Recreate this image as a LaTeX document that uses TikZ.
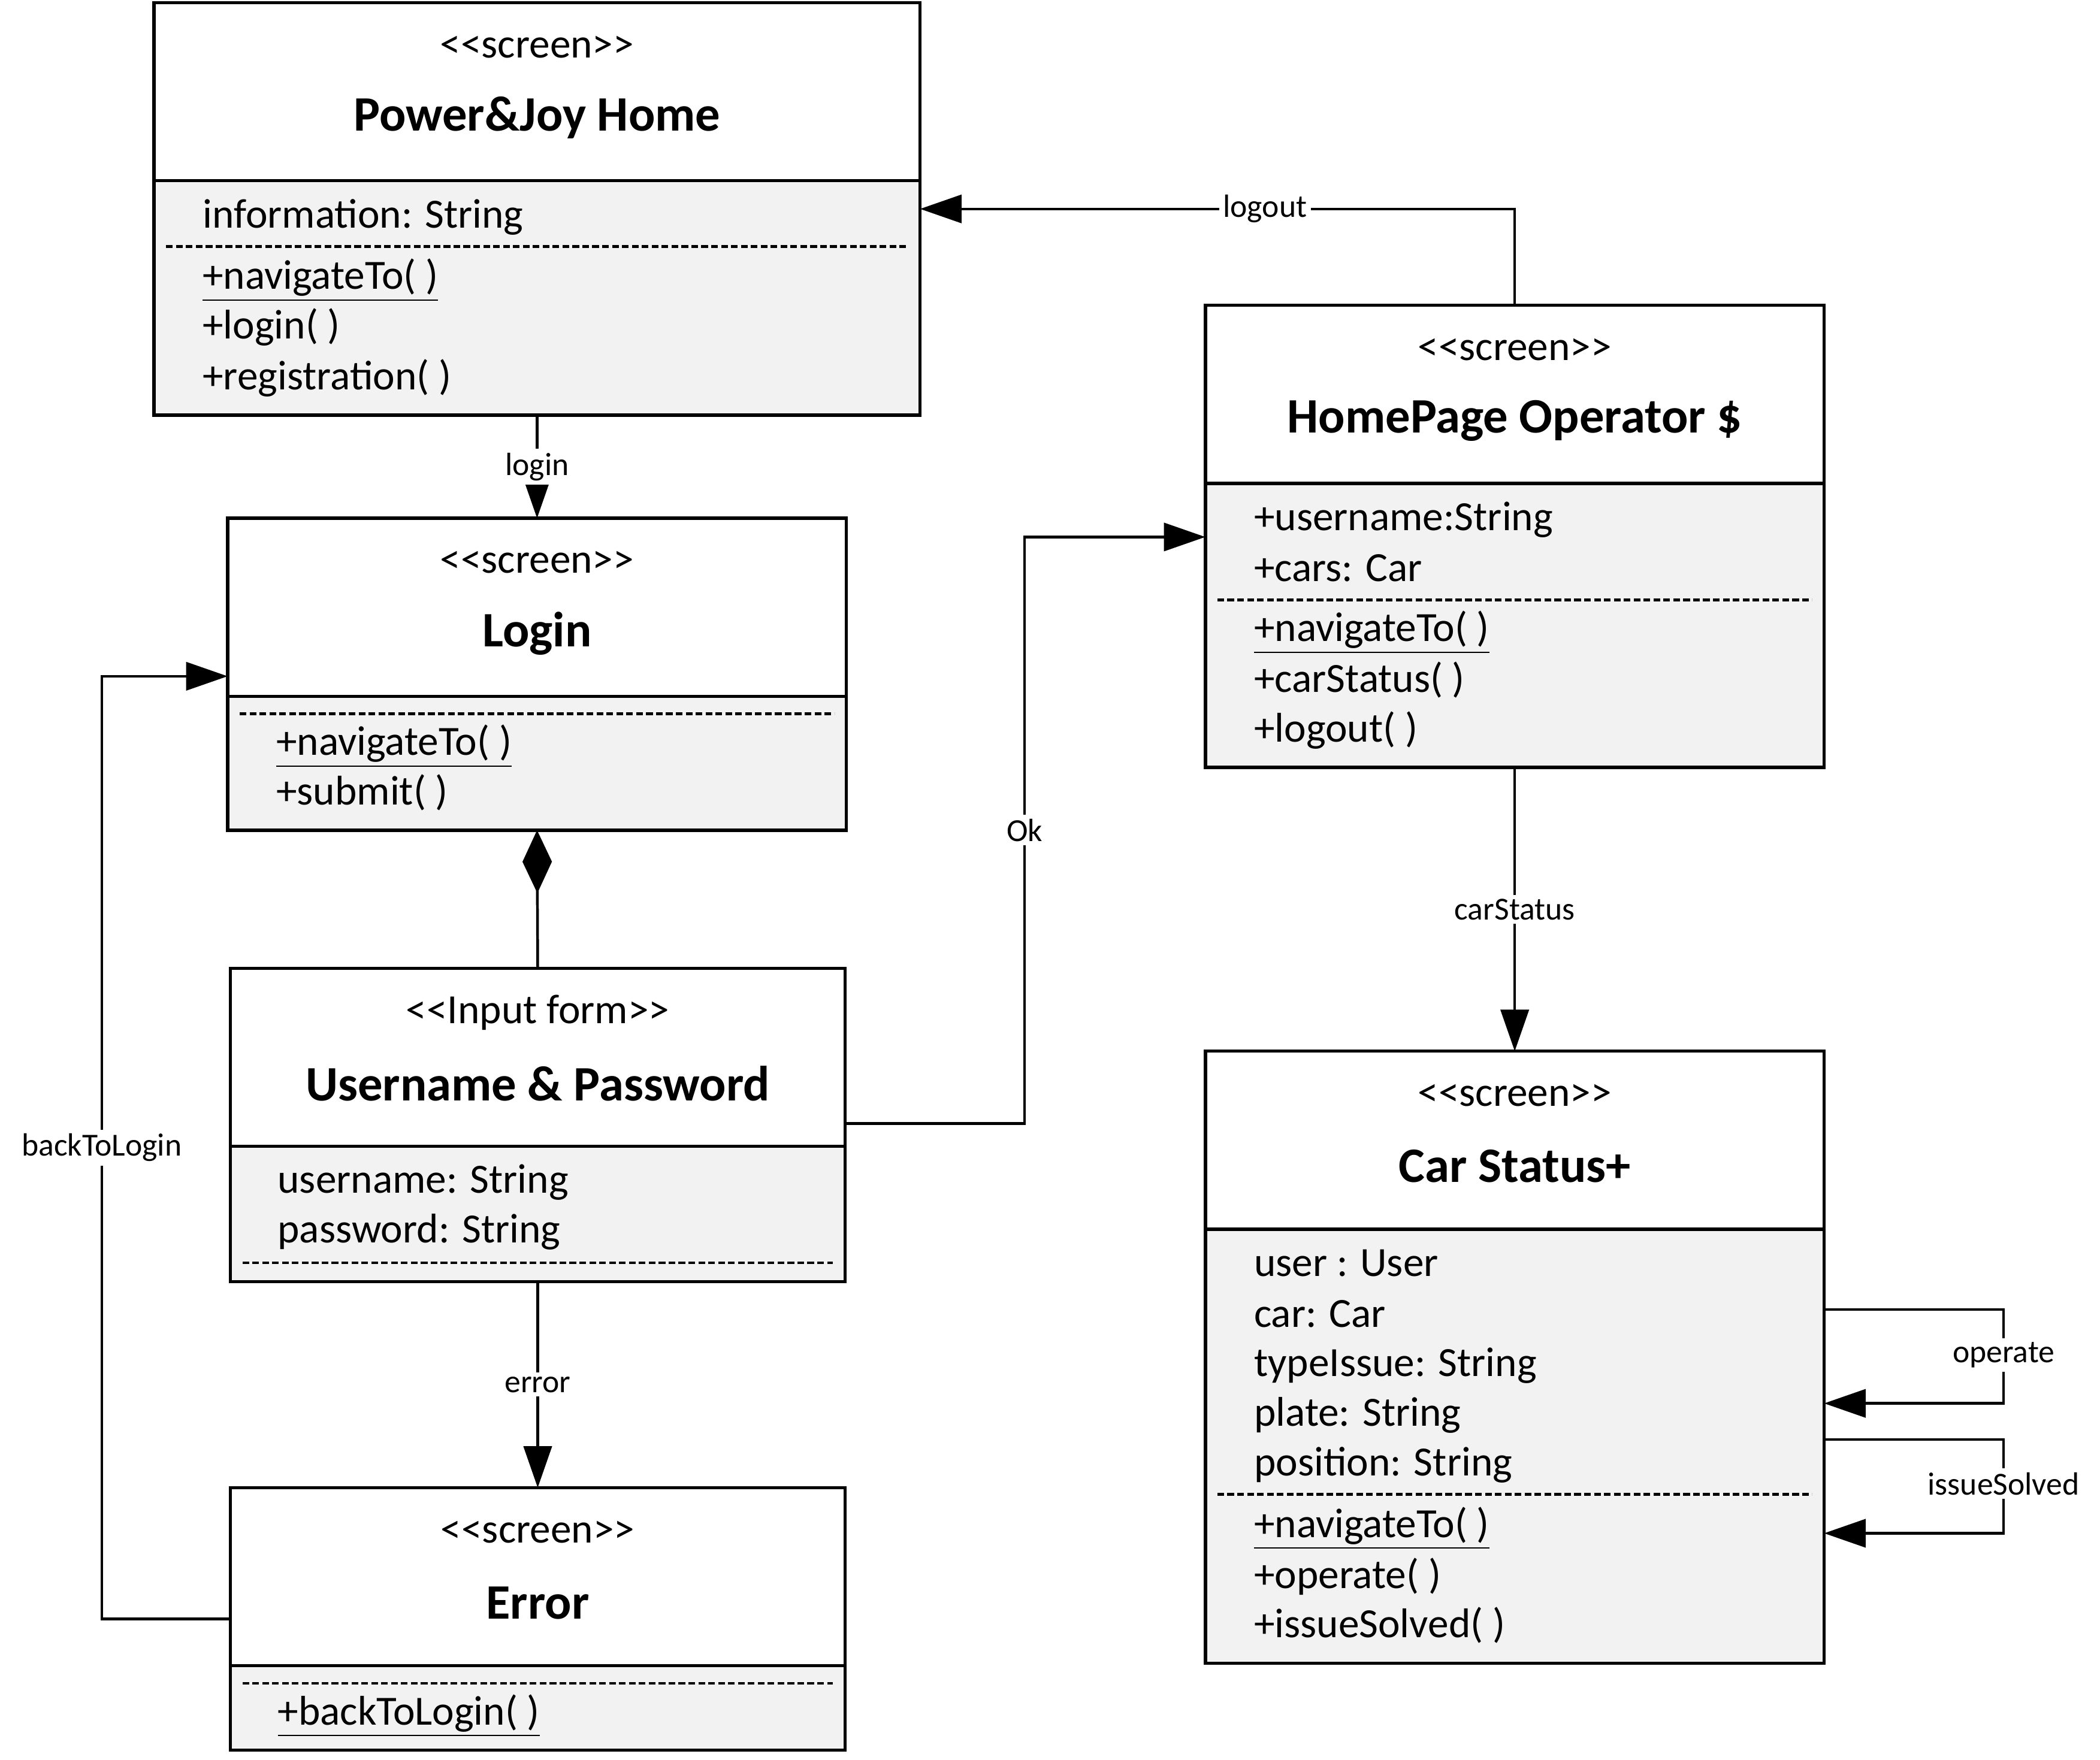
\documentclass[tikz,border=0pt]{standalone}
\usepackage{fontspec}
\setmainfont{Carlito}
\usetikzlibrary{positioning}
\usetikzlibrary{arrows.meta}
\tikzset{
    head/.style = {rectangle, draw=black, line width=1.2pt, fill=white, outer sep=0pt, inner sep=0pt, minimum height=66.5pt},
    body/.style = {rectangle, draw=black, line width=1.2pt, fill=black!5, outer sep=0pt, inner sep=0pt},
    stereo/.style = {font=\fontsize{15.5}{18}\selectfont},
    title/.style = {font=\bfseries\fontsize{18.5}{22}\selectfont},
    member/.style = {anchor=west, inner sep=0pt, text height=0.9em, text depth=0.1em, font=\fontsize{15.5}{18}\selectfont},
    sep/.style = {line width=1pt, dash pattern=on 2.5pt off 1.2pt}, % attrs / ops
    edgen/.style = {-{Triangle[length=15.5pt,width=10.5pt]}, line width=1pt},
    comp/.style = {{Diamond[length=23.5pt,width=11pt]}-, line width=1pt},
    lbl/.style = {fill=white, inner sep=1.5pt, font=\fontsize{12}{14}\selectfont}
}

\begin{document}
\begin{tikzpicture}[x=0.5pt, y=-0.5pt]
\useasboundingbox (0,0) rectangle (1568,1314);

% Power&Joy Home
\node[head, minimum width=286pt] (home) at (401,68.5) {};
\node[body, minimum width=286pt, minimum height=87.5pt, below=0pt of home] (homeB) {};
\node[stereo] (homeS) at ([yshift=-16.5pt]home.north) {<{}<screen>{}>};
\node[title] (homeT) at ([yshift=-43pt]home.north) {Power\&Joy Home};
\node[member] (homeA1) at (151,162) {information: String};
\draw[sep] (124,184) -- (678,184);
\node[member] (homeM1) at (151,208) {\underline{+navigateTo( )}};
\node[member] (homeM2) at (151,245) {+login( )};
\node[member] (homeM3) at (151,283) {+registration( )};

% Login
\node[head, minimum width=231pt] (login) at (401,453.5) {};
\node[body, minimum width=231pt, minimum height=50pt, below=0pt of login] (loginB) {};
\node[stereo] (loginS) at ([yshift=-16.5pt]login.north) {<{}<screen>{}>};
\node[title] (loginT) at ([yshift=-43pt]login.north) {Login};
\draw[sep] (179,533) -- (623,533);
\node[member] (loginM1) at (206,556) {\underline{+navigateTo( )}};
\node[member] (loginM2) at (206,593) {+submit( )};

% Username & Password
\node[head, minimum width=229.5pt] (user) at (401.5,789.5) {};
\node[body, minimum width=229.5pt, minimum height=50.5pt, below=0pt of user] (userB) {};
\node[stereo] (userS) at ([yshift=-16.5pt]user.north) {<{}<Input form>{}>};
\node[title] (userT) at ([yshift=-43pt]user.north) {Username \& Password};
\node[member] (userA1) at (207,883) {username: String};
\node[member] (userA2) at (207,920) {password: String};
\draw[sep] (181,943) -- (622,943);

% Error
\node[head, minimum width=229.5pt] (error) at (401.5,1177.5) {};
\node[body, minimum width=229.5pt, minimum height=31.5pt, below=0pt of error] (errorB) {};
\node[stereo] (errorS) at ([yshift=-16.5pt]error.north) {<{}<screen>{}>};
\node[title] (errorT) at ([yshift=-43pt]error.north) {Error};
\draw[sep] (181,1257) -- (622,1257);
\node[member] (errorM1) at (207,1280) {\underline{+backToLogin( )}};

% HomePage Operator
\node[head, minimum width=231pt] (hop) at (1131,294.5) {};
\node[body, minimum width=231pt, minimum height=106pt, below=0pt of hop] (hopB) {};
\node[stereo] (hopS) at ([yshift=-16.5pt]hop.north) {<{}<screen>{}>};
\node[title] (hopT) at ([yshift=-43pt]hop.north) {HomePage Operator \$};
\node[member] (hopA1) at (936,388) {+username:String};
\node[member] (hopA2) at (936,426) {+cars: Car};
\draw[sep] (909,448) -- (1353,448);
\node[member] (hopM1) at (936,471) {\underline{+navigateTo( )}};
\node[member] (hopM2) at (936,509) {+carStatus( )};
\node[member] (hopM3) at (936,546) {+logout( )};

% Car Status+
\node[head, minimum width=231pt] (car) at (1131,851.5) {};
\node[body, minimum width=231pt, minimum height=162pt, below=0pt of car] (carB) {};
\node[stereo] (carS) at ([yshift=-16.5pt]car.north) {<{}<screen>{}>};
\node[title] (carT) at ([yshift=-43pt]car.north) {Car Status+};
\node[member] (carA1) at (936,945) {user : User};
\node[member] (carA2) at (936,983) {car: Car};
\node[member] (carA3) at (936,1020) {typeIssue: String};
\node[member] (carA4) at (936,1057) {plate: String};
\node[member] (carA5) at (936,1094) {position: String};
\draw[sep] (909,1116) -- (1353,1116);
\node[member] (carM1) at (936,1140) {\underline{+navigateTo( )}};
\node[member] (carM2) at (936,1178) {+operate( )};
\node[member] (carM3) at (936,1215) {+issueSolved( )};

% transitions
\draw[edgen] (homeB.south) -- node[lbl] (lLogin) {login} (login.north);
\draw[edgen] (hop.north) |- node[lbl, pos=0.71] (lLogout) {logout} ([yshift=-10.5pt]homeB.north east);
\coordinate (okc) at (765,620);
\draw[edgen] ([yshift=-24.75pt]user.east) -| (okc) |- ([yshift=-20pt]hopB.north west);
\node[lbl] (lOk) at (okc) {Ok};
\draw[comp] (loginB.south) -- (user.north);
\draw[edgen] (userB.south) -- node[lbl] (lError) {error} (error.north);
\coordinate (btc) at (76,857);
\draw[edgen] ([yshift=-15.75pt]error.west) -| (btc) |- ([yshift=-25.75pt]login.west);
\node[lbl] (lBack) at (btc) {backToLogin};
\draw[edgen] (hopB.south) -- node[lbl] (lCar) {carStatus} (car.north);
\coordinate (opc) at (1496,1012);
\draw[edgen] ([yshift=51pt]carB.east) -| (opc) |- ([yshift=16pt]carB.east);
\node[lbl] (lOp) at (opc) {operate};
\coordinate (isc) at (1496,1108);
\draw[edgen] ([yshift=2.5pt]carB.east) -| (isc) |- ([yshift=-32.5pt]carB.east);
\node[lbl] (lIs) at (isc) {issueSolved};

\end{tikzpicture}
\end{document}
